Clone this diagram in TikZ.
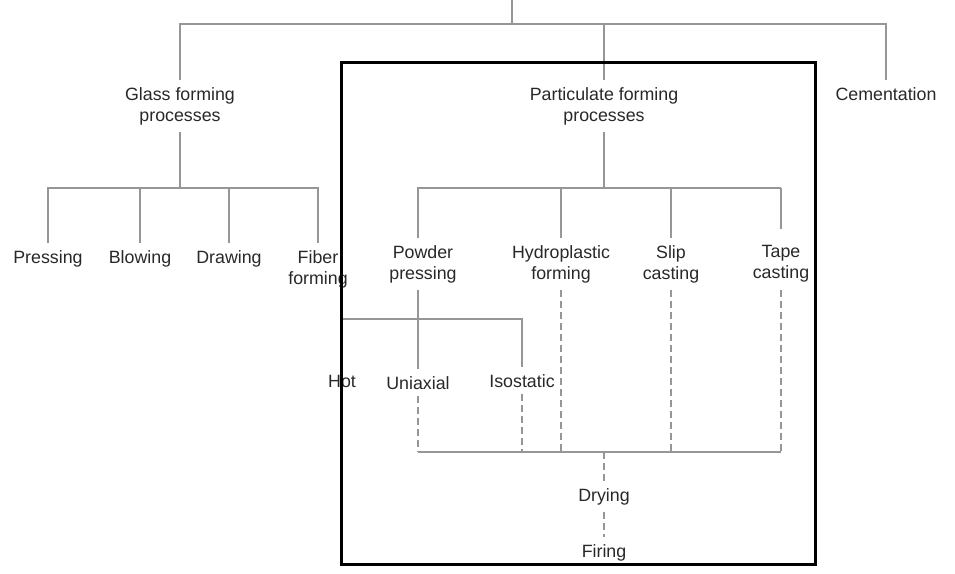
\documentclass[tikz,border=0pt]{standalone}
\usepackage{fontspec}
\setmainfont{Liberation Sans}
\definecolor{linegray}{RGB}{150,150,150}
\definecolor{textgray}{RGB}{40,40,40}
\begin{document}
\begin{tikzpicture}[x=1pt,y=-1pt,
  lbl/.style={font=\fontsize{17.8}{21}\selectfont, text=textgray, align=center, inner xsep=2pt, inner ysep=7pt},
  conn/.style={draw=linegray, line width=2pt},
  dconn/.style={conn, dash pattern=on 7pt off 4pt},
  frame/.style={draw=black, line width=3pt}]
\useasboundingbox (0,0) rectangle (955,573);
% top level
\node[lbl] (glass) at (180,106) {Glass forming\\processes};
\node[lbl] (part) at (604,106) {Particulate forming\\processes};
\node[lbl, anchor=base] (cem) at (886,100) {Cementation};
% glass children
\node[lbl, anchor=base] (press) at (48,263) {Pressing};
\node[lbl, anchor=base] (blow) at (140,263) {Blowing};
\node[lbl, anchor=base] (drawn) at (229,263) {Drawing};
\node[lbl] (fiber) at (318,269) {Fiber\\forming};
% particulate children
\node[lbl] (powder) at (423,264) {Powder\\pressing};
\node[lbl] (hydro) at (561,264) {Hydroplastic\\forming};
\node[lbl] (slip) at (671,264) {Slip\\casting};
\node[lbl] (tape) at (781,264) {Tape\\casting};
% pressing kinds
\node[lbl, anchor=base] (hot) at (342,387) {Hot};
\node[lbl, anchor=base] (uni) at (418,389) {Uniaxial};
\node[lbl, anchor=base] (iso) at (522,387) {Isostatic};
% finishing
\node[lbl, anchor=base] (dry) at (604,501) {Drying};
\node[lbl, anchor=base] (fire) at (604,557) {Firing};
% junctions
\coordinate (root) at (512,0);
\coordinate (tj) at (512,24);
\coordinate (gj) at (180,188);
\coordinate (pj) at (604,188);
\coordinate (hj) at (418,319);
\coordinate (bj) at (604,452);
% top tree
\draw[conn] (root) -- (tj);
\draw[conn] (glass.north) -- (glass.north |- tj) -- (cem.north |- tj) -- (cem.north);
\draw[conn] (part.north) -- (part.north |- tj);
% glass tree
\draw[conn] (glass.south) -- (gj);
\draw[conn] (press.north) |- (gj) -| (fiber.north);
\draw[conn] (blow.north) -- (blow.north |- gj);
\draw[conn] (drawn.north) -- (drawn.north |- gj);
% particulate tree
\draw[conn] (part.south) -- (pj);
\draw[conn] (uni.north |- powder.north) |- (pj) -| (slip.north);
\draw[conn] (hydro.north) -- (hydro.north |- pj);
\draw[conn] (slip.north |- pj) -- (tape.north |- pj);
\draw[conn, shorten >=9pt] (tape.north |- pj) -- (tape.north);
% pressing tree
\draw[conn] (uni.north |- powder.south) -- (uni.north);
\draw[conn] (hot.north |- hj) -- (hj -| iso.north) -- (iso.north);
% dashed to drying
\draw[dconn] (uni.south) -- (uni.south |- bj);
\draw[dconn] (iso.south) -- (iso.south |- bj);
\draw[dconn] (hydro.south) -- (hydro.south |- bj);
\draw[dconn] (slip.south) -- (slip.south |- bj);
\draw[dconn] (tape.south) -- (tape.south |- bj);
\draw[conn] (uni.south |- bj) -- (tape.south |- bj);
\draw[dconn] (bj) -- (dry.north);
\draw[dconn] (dry.south) -- (fire.north);
% frame
\draw[frame] (341,62) rectangle (815,564);
\end{tikzpicture}
\end{document}
